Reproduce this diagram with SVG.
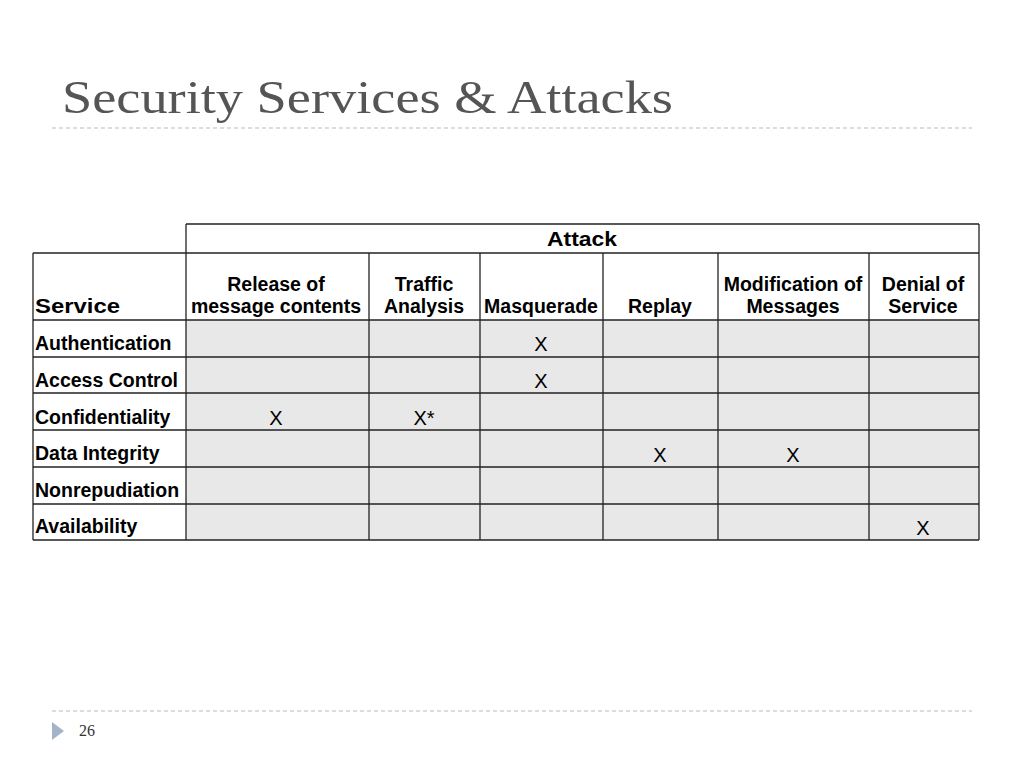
<svg xmlns="http://www.w3.org/2000/svg" width="1024" height="768" viewBox="0 0 1024 768">
<style>
.h{font-family:"Liberation Sans",Arial,sans-serif;font-weight:bold;font-size:19.5px;fill:#000}
.c{font-family:"Liberation Sans",Arial,sans-serif;font-size:20px;fill:#000;text-anchor:middle}
.hc{text-anchor:middle}
.g{stroke:#222;stroke-width:1.3;fill:none}
</style>
<rect width="1024" height="768" fill="#fff"/>
<text x="62" y="113" font-family="Liberation Serif,serif" font-size="46" fill="#555" textLength="611" lengthAdjust="spacingAndGlyphs">Security Services &amp; Attacks</text>
<line x1="52" y1="128" x2="972" y2="128" stroke="#bbb" stroke-dasharray="4,3"/>
<line x1="52" y1="711" x2="972" y2="711" stroke="#bbb" stroke-dasharray="4,3"/>
<polygon points="52,722 64,731 52,740" fill="#a3b4c8"/>
<text x="79" y="736" font-family="Liberation Serif,serif" font-size="16" fill="#333">26</text>
<g id="table">
<rect x="186" y="320" width="793" height="220" fill="#e8e8e8"/>
<g class="g">
<line x1="186" y1="224" x2="979" y2="224"/>
<line x1="33" y1="253" x2="979" y2="253"/>
<line x1="33" y1="320" x2="979" y2="320"/>
<line x1="33" y1="357" x2="979" y2="357"/>
<line x1="33" y1="393" x2="979" y2="393"/>
<line x1="33" y1="430" x2="979" y2="430"/>
<line x1="33" y1="467" x2="979" y2="467"/>
<line x1="33" y1="504" x2="979" y2="504"/>
<line x1="33" y1="540" x2="979" y2="540"/>
<line x1="33" y1="253" x2="33" y2="540"/>
<line x1="186" y1="224" x2="186" y2="540"/>
<line x1="979" y1="224" x2="979" y2="540"/>
<line x1="369" y1="253" x2="369" y2="540"/>
<line x1="480" y1="253" x2="480" y2="540"/>
<line x1="603" y1="253" x2="603" y2="540"/>
<line x1="718" y1="253" x2="718" y2="540"/>
<line x1="869" y1="253" x2="869" y2="540"/>
</g>
<text class="h" x="547" y="246" font-size="22" textLength="70" lengthAdjust="spacingAndGlyphs">Attack</text>
<text class="h" x="35" y="313" font-size="23" textLength="85" lengthAdjust="spacingAndGlyphs">Service</text>
<g class="h hc">
<text x="276" y="291">Release of</text><text x="276" y="313">message contents</text>
<text x="424" y="291">Traffic</text><text x="424" y="313">Analysis</text>
<text x="541" y="313">Masquerade</text>
<text x="660" y="313">Replay</text>
<text x="793" y="291">Modification of</text><text x="793" y="313">Messages</text>
<text x="923" y="291">Denial of</text><text x="923" y="313">Service</text>
</g>
<g class="h">
<text x="35" y="350">Authentication</text>
<text x="35" y="387">Access Control</text>
<text x="35" y="424">Confidentiality</text>
<text x="35" y="460">Data Integrity</text>
<text x="35" y="497">Nonrepudiation</text>
<text x="35" y="533">Availability</text>
</g>
<g class="c">
<text x="541" y="351">X</text>
<text x="541" y="388">X</text>
<text x="276" y="425">X</text>
<text x="424" y="425">X*</text>
<text x="660" y="462">X</text>
<text x="793" y="462">X</text>
<text x="923" y="535">X</text>
</g>
</g>
</svg>
